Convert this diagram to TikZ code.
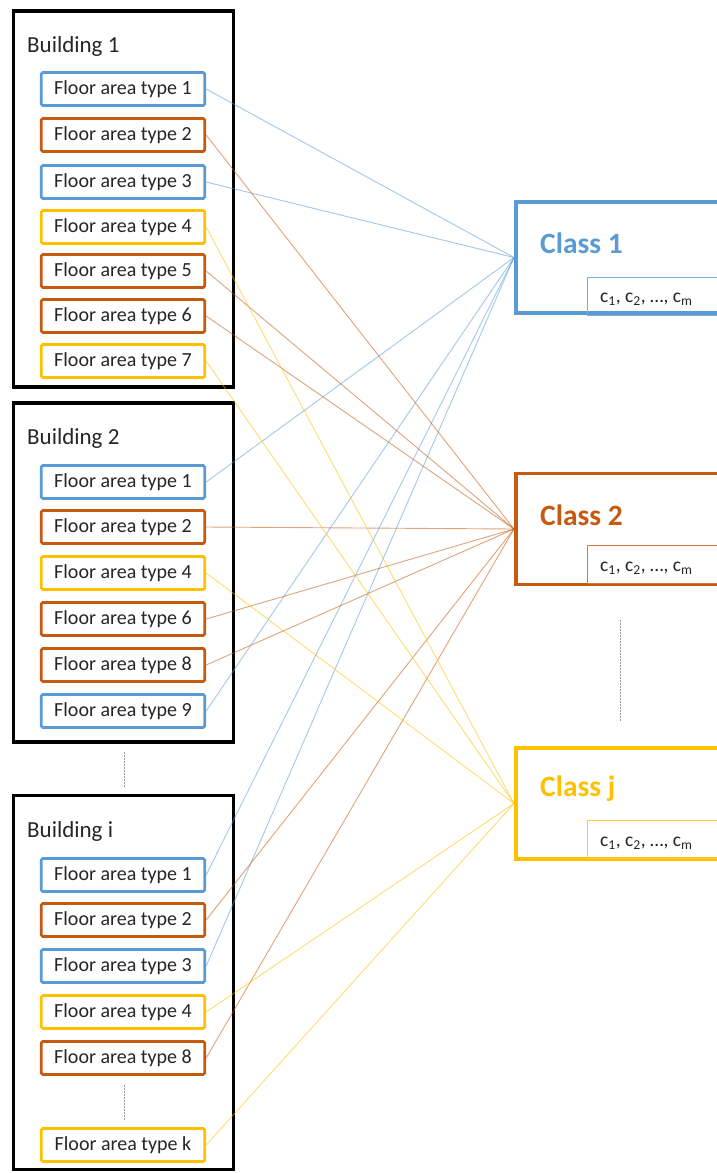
\documentclass[tikz,border=0pt]{standalone}
\usepackage{fontspec}
\setmainfont{Carlito}
\definecolor{cblue}{HTML}{5B9BD5}
\definecolor{corange}{HTML}{C55A11}
\definecolor{cyellow}{HTML}{FFC000}
\definecolor{ctext}{HTML}{262626}
\begin{document}
\begin{tikzpicture}[x=1pt,y=-1pt,
  floorbox/.style={draw=#1, line width=2.8pt, rounded corners=1.5pt, minimum width=163.5pt, minimum height=33pt, inner sep=0pt, fill=white, font=\fontsize{20}{21}\selectfont, text=ctext},
  bldg/.style={draw=black, line width=3.8pt, minimum width=220pt, inner sep=0pt, fill=white},
  bldglabel/.style={anchor=west, inner sep=0pt, font=\fontsize{23}{24}\selectfont, text=ctext},
  classbox/.style={draw=#1, line width=3.6pt, minimum width=300pt, minimum height=111pt, anchor=west, inner sep=0pt, fill=white},
  classlabel/.style={anchor=west, inner sep=0pt, font=\fontsize{29.5}{30}\bfseries\selectfont, text=#1},
  cbox/.style={draw=#1, line width=1.3pt, minimum width=250pt, minimum height=38pt, anchor=north west, inner sep=0pt},
  clabel/.style={anchor=west, inner sep=0pt, font=\fontsize{19.5}{20}\selectfont, text=ctext},
  link/.style={draw=#1, line width=0.9pt, opacity=0.55},
  dots/.style={draw=gray!80, line width=0.9pt, dash pattern=on 1.5pt off 1.5pt}
]
\useasboundingbox (0,0) rectangle (717,1173);
\clip (0,0) rectangle (717,1173);
\fill[white] (0,0) rectangle (717,1173);

% buildings
\node[bldg, minimum height=376pt] (B1) at (123.5,199) {};
\node[bldg, minimum height=339pt] (B2) at (123.5,572.5) {};
\node[bldg, minimum height=374pt] (B3) at (123.5,982.5) {};
\node[bldglabel] (L1) at (27,46) {Building 1};
\node[bldglabel] (L2) at (27,438) {Building 2};
\node[bldglabel] (L3) at (27,831) {Building i};

% building 1 floors
\node[floorbox=cblue]   (a1) at (123,89)  {Floor area type 1};
\node[floorbox=corange] (a2) at (123,135) {Floor area type 2};
\node[floorbox=cblue]   (a3) at (123,182) {Floor area type 3};
\node[floorbox=cyellow] (a4) at (123,227) {Floor area type 4};
\node[floorbox=corange] (a5) at (123,271) {Floor area type 5};
\node[floorbox=corange] (a6) at (123,316) {Floor area type 6};
\node[floorbox=cyellow] (a7) at (123,361) {Floor area type 7};

% building 2 floors
\node[floorbox=cblue]   (b1) at (123,482) {Floor area type 1};
\node[floorbox=corange] (b2) at (123,527) {Floor area type 2};
\node[floorbox=cyellow] (b4) at (123,573) {Floor area type 4};
\node[floorbox=corange] (b6) at (123,619) {Floor area type 6};
\node[floorbox=corange] (b8) at (123,665) {Floor area type 8};
\node[floorbox=cblue]   (b9) at (123,711) {Floor area type 9};

% building i floors
\node[floorbox=cblue]   (i1) at (123,875)  {Floor area type 1};
\node[floorbox=corange] (i2) at (123,920)  {Floor area type 2};
\node[floorbox=cblue]   (i3) at (123,966)  {Floor area type 3};
\node[floorbox=cyellow] (i4) at (123,1012) {Floor area type 4};
\node[floorbox=corange] (i8) at (123,1058) {Floor area type 8};
\node[floorbox=cyellow] (ik) at (123,1145) {Floor area type k};

% dotted separators
\draw[dots] (124.5,752) -- (124.5,788);
\draw[dots] (124.5,1085) -- (124.5,1121);
\draw[dots] (620,620) -- (620,722);

% classes
\node[classbox=cblue]   (C1) at (514,257.5) {};
\node[classbox=corange] (C2) at (514,529)   {};
\node[classbox=cyellow] (Cj) at (514,803.5) {};
\node[classlabel=cblue]   (T1) at (540,243) {Class 1};
\node[classlabel=corange] (T2) at (540,515) {Class 2};
\node[classlabel=cyellow] (Tj) at (540,789) {Class j};
\node[cbox=cblue!80]   (K1) at (587,277) {};
\node[cbox=corange!80] (K2) at (587,545) {};
\node[cbox=cyellow!80] (Kj) at (587,820) {};
\node[clabel] (k1) at (600,299) {c\textsubscript{1}, c\textsubscript{2}, …, c\textsubscript{m}};
\node[clabel] (k2) at (600,568) {c\textsubscript{1}, c\textsubscript{2}, …, c\textsubscript{m}};
\node[clabel] (kj) at (600,843) {c\textsubscript{1}, c\textsubscript{2}, …, c\textsubscript{m}};

% links
\foreach \f in {a1,a3,b1,b9,i1,i3} \draw[link=cblue] (\f.east) -- (C1.west);
\foreach \f in {a2,a5,a6,b2,b6,b8,i2,i8} \draw[link=corange] (\f.east) -- (C2.west);
\foreach \f in {a4,a7,b4,i4,ik} \draw[link=cyellow] (\f.east) -- (Cj.west);
\end{tikzpicture}
\end{document}
